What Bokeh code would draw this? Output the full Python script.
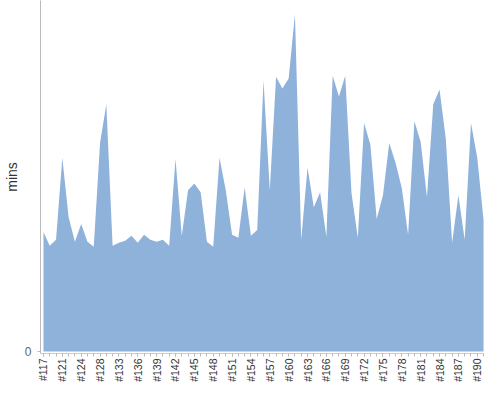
import math
from bokeh.plotting import figure
from bokeh.models import FixedTicker, Range1d, ColumnDataSource
from bokeh.embed import file_html
from bokeh.resources import INLINE

builds = ["#117", "#119", "#120", "#121", "#122", "#123", "#124", "#126", "#127", "#128",
          "#130", "#132"] + ["#%d" % n for n in range(133, 192)]

minutes = [12.1, 10.7, 11.3, 19.6, 13.6, 11.1, 12.9, 11.1, 10.6, 21.1,
           25.0, 10.7, 11.0, 11.2, 11.7, 11.0, 11.8, 11.3, 11.1, 11.3,
           10.7, 19.5, 11.7, 16.3, 17.0, 16.1, 11.1, 10.6, 19.6, 16.3,
           11.8, 11.5, 16.6, 11.7, 12.3, 27.4, 16.3, 27.8, 26.6, 27.6,
           34.1, 11.3, 18.6, 14.6, 16.1, 11.6, 27.9, 25.8, 27.9, 16.0,
           11.5, 23.1, 20.9, 13.4, 15.8, 21.1, 19.1, 16.5, 11.8, 23.3,
           21.2, 15.6, 25.0, 26.5, 21.5, 11.0, 15.8, 11.3, 23.1, 19.6,
           13.3]

tick_labels = builds[::3]

xs = list(range(len(builds)))
src = ColumnDataSource(data=dict(x=xs, y=minutes, zero=[0] * len(xs)))

p = figure(width=484, height=384, output_backend="svg", toolbar_location=None,
           x_range=Range1d(-0.47, 70.15), y_range=Range1d(-0.2, 35.5),
           min_border=0, min_border_left=31)

p.varea(x="x", y1="zero", y2="y", source=src, fill_color="#8FB2DA", fill_alpha=1.0)

major = xs[::3]
p.xaxis.ticker = FixedTicker(ticks=major, minor_ticks=xs)
p.xaxis.major_label_overrides = {i: lab for i, lab in zip(major, tick_labels)}
p.xaxis.major_label_orientation = math.pi / 2
p.xaxis.major_label_text_font = "Liberation Sans"
p.xaxis.major_label_text_font_size = "10.5px"
p.xaxis.major_label_text_color = "#333333"
p.xaxis.major_label_standoff = 2
p.xaxis.axis_label_standoff = 0
p.xaxis.axis_line_color = "#cccccc"
p.xaxis.major_tick_line_color = "#bbbbbb"
p.xaxis.minor_tick_line_color = "#bbbbbb"
p.xaxis.major_tick_out = 3
p.xaxis.major_tick_in = 0
p.xaxis.minor_tick_out = 3
p.xaxis.minor_tick_in = 0

p.yaxis.ticker = FixedTicker(ticks=[0], minor_ticks=[])
p.yaxis.axis_label = "mins"
p.yaxis.axis_label_text_font = "Liberation Sans"
p.yaxis.axis_label_text_font_size = "14px"
p.yaxis.axis_label_text_font_style = "normal"
p.yaxis.axis_label_text_color = "#333333"
p.yaxis.axis_label_standoff = 2
p.yaxis.major_label_text_font = "Liberation Sans"
p.yaxis.major_label_text_font_size = "12px"
p.yaxis.major_label_text_color = "#666666"
p.yaxis.axis_line_color = "#bbbbbb"
p.yaxis.major_tick_line_color = "#bbbbbb"
p.yaxis.major_tick_out = 3
p.yaxis.major_tick_in = 0
p.yaxis.major_label_standoff = 6

p.xgrid.visible = False
p.ygrid.visible = False
p.outline_line_color = None
p.background_fill_color = "white"
p.border_fill_color = "white"

open("out.html", "w").write(file_html(p, INLINE))
